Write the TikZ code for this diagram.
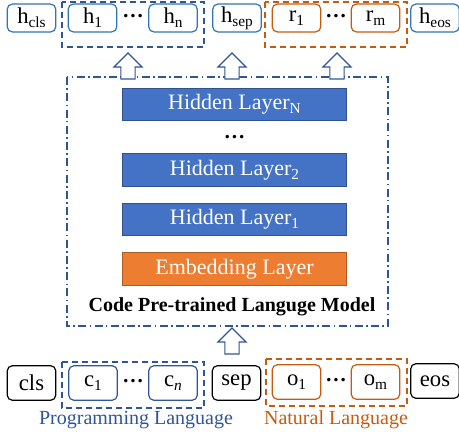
\documentclass[tikz,border=0pt]{standalone}
\usepackage{fontspec}
\setmainfont{Liberation Serif}
\usetikzlibrary{positioning,shapes.arrows}

\definecolor{hblue}{HTML}{2E75B6}
\definecolor{dkblue}{HTML}{2F5597}
\definecolor{layerfill}{HTML}{4472C4}
\definecolor{layerline}{HTML}{2F528F}
\definecolor{embfill}{HTML}{ED7D31}
\definecolor{embline}{HTML}{AE5A21}
\definecolor{orline}{HTML}{C55A11}

\newcommand{\lowsub}[1]{\raisebox{-0.4ex}{\fontsize{11.5}{11.5}\selectfont #1}}

\begin{document}
\begin{tikzpicture}[x=0.75pt, y=-0.75pt]
    \tikzset{
      tok/.style = {rectangle, rounded corners=4pt, minimum width=36.5pt, inner sep=0pt, line width=0.9pt, font=\fontsize{17}{17}\selectfont},
      outtok/.style = {tok, minimum height=21pt, draw=hblue},
      outtokr/.style = {tok, minimum height=21pt, draw=orline},
      intok/.style = {tok, minimum height=26pt, draw=black},
      intokb/.style = {tok, minimum height=26pt, draw=dkblue},
      intokr/.style = {tok, minimum height=26pt, draw=orline},
      layer/.style = {rectangle, minimum width=168pt, minimum height=24.5pt, inner sep=0pt, draw=layerline, line width=0.8pt, fill=layerfill, text=white, font=\fontsize{16.5}{16.5}\selectfont},
      emb/.style = {layer, draw=embline, fill=embfill},
      group/.style = {dashed, dash pattern=on 4.5pt off 3pt, line width=1pt},
      uparrow/.style = {single arrow, rotate=90, draw=dkblue, fill=white, line width=0.9pt, inner sep=4.9pt, single arrow head extend=5.25pt, minimum height=19.5pt, single arrow tip angle=90},
      dots/.style = {font=\fontsize{16}{16}\selectfont\bfseries}
    }
    \useasboundingbox (0,0) rectangle (459,435);

    % model box
    \draw [dkblue, line width=1pt, dash pattern=on 6pt off 2.5pt on 1.2pt off 2.5pt] (67,77) rectangle (388,326);
    \node (layN) [layer] at (234.5,104.5) {Hidden Layer\lowsub{N}};
    \node (vdots) [dots] at (234.5,137) {…};
    \node (lay2) [layer] at (234.5,170) {Hidden Layer\lowsub{2}};
    \node (lay1) [layer] at (234.5,219.5) {Hidden Layer\lowsub{1}};
    \node (embed) [emb] at (234.5,269) {Embedding Layer};
    \node (model) [font=\fontsize{15}{15}\selectfont\bfseries] at (232,307) {Code Pre-trained Languge Model};

    % output tokens
    \draw [group, dkblue] (62,2) rectangle (204,47);
    \draw [group, orline] (265,2) rectangle (407,47);
    \node (hcls) [outtok] at (31.5,18) {h\lowsub{cls}};
    \node (h1) [outtok] at (92.5,18) {h\lowsub{1}};
    \node (hdots) [dots] at (133,16) {…};
    \node (hn) [outtok] at (173,18) {h\lowsub{n}};
    \node (hsep) [outtok] at (237,18) {h\lowsub{sep}};
    \node (r1) [outtokr] at (296.5,18) {r\lowsub{1}};
    \node (rdots) [dots] at (336,16) {…};
    \node (rm) [outtokr] at (375.5,18) {r\lowsub{m}};
    \node (heos) [outtok] at (435,18) {h\lowsub{eos}};

    % input tokens
    \draw [group, dkblue] (62,362) rectangle (204,408);
    \draw [group, orline] (266,359) rectangle (407,406);
    \node (cls) [intok] at (31.5,383) {cls};
    \node (c1) [intokb] at (93,383) {c\lowsub{1}};
    \node (cdots) [dots] at (133,381) {…};
    \node (cn) [intokb] at (173,383) {c\lowsub{\textit{n}}};
    \node (sep) [intok] at (236.5,383) {sep};
    \node (o1) [intokr] at (296.5,382) {o\lowsub{1}};
    \node (odots) [dots] at (336,380) {…};
    \node (om) [intokr] at (375.5,382) {o\lowsub{m}};
    \node (eos) [intok] at (435,381) {eos};
    \node (pl) [text=dkblue, font=\fontsize{15}{15}\selectfont] at (136,420) {Programming Language};
    \node (nl) [text=orline, font=\fontsize{15}{15}\selectfont] at (336,420) {Natural Language};

    % arrows
    \node (upin) [uparrow] at (232,344.5) {};
    \node (upa) [uparrow] at (128,69.5) {};
    \node (upb) [uparrow] at (232,69.5) {};
    \node (upc) [uparrow] at (337,69.5) {};
\end{tikzpicture}
\end{document}
